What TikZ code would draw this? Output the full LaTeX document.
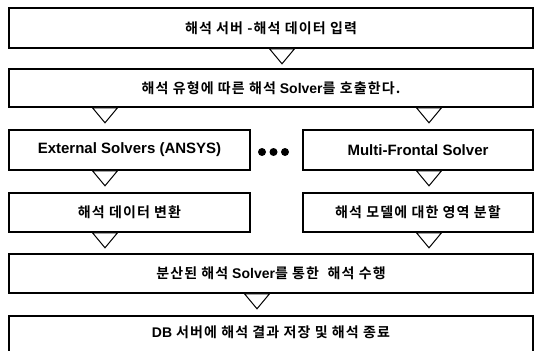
\documentclass[tikz,border=0pt]{standalone}
\usepackage{fontspec}
\setmainfont{Liberation Sans}
\newfontfamily\kr{Noto Sans CJK KR Black}[LetterSpace=8]
\usetikzlibrary{calc}
\tikzset{
  box/.style={draw=black, line width=1.6pt, minimum height=40pt, inner sep=0pt,
    font=\bfseries\fontsize{14}{16}\selectfont},
  wide/.style={box, minimum width=524pt},
  half/.style={box, minimum width=241pt},
  halfr/.style={box, minimum width=230pt},
  latin/.style={font=\bfseries\fontsize{15}{17}\selectfont},
  tri/.style={draw=black, line width=1pt, fill=white, line join=miter},
  dotmark/.style={circle, fill=black, minimum size=8pt, inner sep=0pt}
}
\newcommand{\downtri}[1]{\draw[tri] ($#1+(-12.5,0)$) -- ($#1+(12.5,0)$) -- ($#1+(0,15)$) -- cycle;}
\begin{document}
\begin{tikzpicture}[x=1pt,y=-1pt]
\useasboundingbox (0,0) rectangle (534,350);
\clip (0,0) rectangle (534,350);
\fill[white] (0,0) rectangle (534,350);
\node[wide] (b1) at (271,28) {{\kr 해석 서버 -해석 데이터 입력}};
\node[wide, minimum height=38pt] (b2) at (271,88) {{\kr 해석 유형에 따른 해석} Solver{\kr 를 호출한다.}};
\node[half, latin] (b3l) at (129.5,150) {External Solvers (ANSYS)};
\node[halfr, latin] (b3r) at (418,150) {Multi-Frontal Solver};
\node[dotmark] (d1) at (262,152) {};
\node[dotmark] (d2) at (273.5,152) {};
\node[dotmark] (d3) at (285,152) {};
\node[half, minimum height=39pt] (b4l) at (129.5,212.5) {{\kr 해석 데이터 변환}};
\node[halfr, minimum height=39pt] (b4r) at (418,212.5) {{\kr 해석 모델에 대한 영역 분할}};
\node[wide, minimum height=39pt] (b5) at (271,273.5) {{\kr 분산된 해석} Solver{\kr 를 통한\ \ 해석 수행}};
\node[wide, minimum height=48pt, text height=10pt, text depth=16pt] (b6) at (271,340) {DB {\kr 서버에 해석 결과 저장 및 해석 종료}};
% flow markers
\downtri{(b1.south -| 282,0)}
\downtri{(b2.south -| 105,0)}
\downtri{(b2.south -| 429,0)}
\downtri{(b3l.south -| 105,0)}
\downtri{(b3r.south -| 429,0)}
\downtri{(b4l.south -| 105,0)}
\downtri{(b4r.south -| 429,0)}
\downtri{(b5.south -| 257,0)}
\end{tikzpicture}
\end{document}
